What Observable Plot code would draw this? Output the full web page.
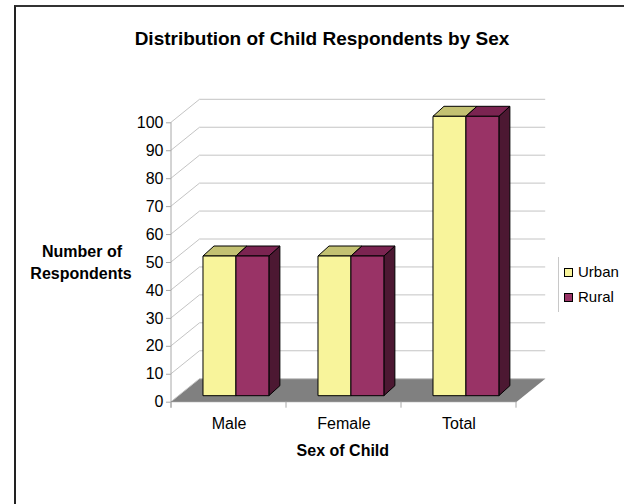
<!DOCTYPE html>
<html><head><meta charset="utf-8">
<script src="https://cdn.jsdelivr.net/npm/d3@7"></script>
<script src="https://cdn.jsdelivr.net/npm/@observablehq/plot@0.6"></script>
<style>
html,body{margin:0;padding:0;background:#fff;overflow:hidden}
#wrap{position:relative;width:624px;height:504px;overflow:hidden}
#border{position:absolute;left:14px;top:5px;width:700px;height:600px;border-left:2px solid #222;border-top:2px solid #333;box-sizing:border-box}
#wrap svg{position:absolute;left:0;top:0}
</style></head><body><div id="wrap"><div id="border"></div></div>
<script>
// ---- data ----
const categories = ["Male", "Female", "Total"];
const seriesNames = ["Urban", "Rural"];
const urbanValues = [50, 50, 100];
const ruralValues = [50, 50, 100];
const yTicks = [0, 10, 20, 30, 40, 50, 60, 70, 80, 90, 100];
const chartTitle = "Distribution of Child Respondents by Sex";
const yTitleLines = ["Number of", "Respondents"];
const xTitle = "Sex of Child";

// ---- styles ----
const frontColors = ["#f8f49b", "#993366"];
const topColors = ["#c3c172", "#7b2451"];
const sideColor = "#4c1832";
const floorColor = "#808080";
const gridColor = "#c4c4c4";
const FONT = "'Liberation Sans', Arial, Helvetica, sans-serif";

// 3D projection offsets (pixels)
const WALL = [28.5, -23];
const BAR_OFF = [7.5, -6];
const BAR_DEPTH = [11, -10];
const GROUP_START = 0.213;
const BAR_W = 0.2865;

const rows = [];
categories.forEach((c, i) => {
  rows.push({category: c, series: seriesNames[0], s: 0, value: urbanValues[i]});
  rows.push({category: c, series: seriesNames[1], s: 1, value: ruralValues[i]});
});

const pts = (a) => a.map(p => p.join(",")).join(" ");
const bwOf = (x) => typeof x.bandwidth === "function" ? x.bandwidth() : x.bandwidth;

function wallsMark(index, scales, values, dims) {
  const x = scales.x, y = scales.y;
  const x0 = dims.marginLeft, x1 = dims.width - dims.marginRight, y0 = y(0);
  const g = d3.create("svg:g");
  g.append("polygon")
    .attr("points", pts([[x0, y0], [x1, y0], [x1 + WALL[0], y0 + WALL[1]], [x0 + WALL[0], y0 + WALL[1]]]))
    .attr("fill", floorColor);
  for (const t of yTicks) {
    const yt = y(t);
    g.append("line").attr("x1", x0 + WALL[0]).attr("x2", x1 + WALL[0])
      .attr("y1", yt + WALL[1]).attr("y2", yt + WALL[1]).attr("stroke", gridColor);
    g.append("line").attr("x1", x0).attr("x2", x0 + WALL[0])
      .attr("y1", yt).attr("y2", yt + WALL[1]).attr("stroke", gridColor);
  }
  g.append("line").attr("x1", x0).attr("x2", x0)
    .attr("y1", y(d3.max(yTicks))).attr("y2", y0 + 6).attr("stroke", "#a8a8a8");
  g.append("line").attr("x1", x0).attr("x2", x1)
    .attr("y1", y0).attr("y2", y0).attr("stroke", "#8a8a8a");
  const bw = bwOf(x);
  const edges = categories.map(c => x(c)).concat([x(categories[categories.length - 1]) + bw]);
  for (const e of edges) {
    g.append("line").attr("x1", e).attr("x2", e).attr("y1", y0).attr("y2", y0 + 6).attr("stroke", "#a8a8a8");
  }
  return g.node();
}

function barsMark(index, scales, values, dims) {
  const x = scales.x, y = scales.y;
  const bw = bwOf(x);
  const g = d3.create("svg:g").attr("stroke", "#000").attr("stroke-width", 1).attr("stroke-linejoin", "round");
  for (const r of rows) {
    const left = x(r.category) + bw * (GROUP_START + r.s * BAR_W) + BAR_OFF[0];
    const right = left + bw * BAR_W;
    const top = y(r.value) + BAR_OFF[1];
    const bottom = y(0) + BAR_OFF[1];
    g.append("polygon").attr("fill", sideColor)
      .attr("points", pts([[right, top], [right + BAR_DEPTH[0], top + BAR_DEPTH[1]], [right + BAR_DEPTH[0], bottom + BAR_DEPTH[1]], [right, bottom]]));
    g.append("polygon").attr("fill", topColors[r.s])
      .attr("points", pts([[left, top], [right, top], [right + BAR_DEPTH[0], top + BAR_DEPTH[1]], [left + BAR_DEPTH[0], top + BAR_DEPTH[1]]]));
    g.append("rect").attr("fill", frontColors[r.s])
      .attr("x", left).attr("y", top).attr("width", right - left).attr("height", bottom - top);
  }
  return g.node();
}

function textMark(index, scales, values, dims) {
  const g = d3.create("svg:g").attr("font-family", FONT).attr("fill", "#000");
  const cx = (dims.marginLeft + dims.width - dims.marginRight) / 2;
  g.append("text").attr("x", 322).attr("y", 45).attr("text-anchor", "middle")
    .attr("font-size", 19).attr("font-weight", "bold").text(chartTitle);
  g.append("text").attr("x", 82).attr("y", 257).attr("text-anchor", "middle")
    .attr("font-size", 16).attr("font-weight", "bold").text(yTitleLines[0]);
  g.append("text").attr("x", 81).attr("y", 279).attr("text-anchor", "middle")
    .attr("font-size", 16).attr("font-weight", "bold").text(yTitleLines[1]);
  g.append("text").attr("x", cx - 1).attr("y", 456).attr("text-anchor", "middle")
    .attr("font-size", 16).attr("font-weight", "bold").text(xTitle);
  // legend
  g.append("line").attr("x1", 558.5).attr("x2", 558.5).attr("y1", 257).attr("y2", 312).attr("stroke", "#c8c8c8");
  seriesNames.forEach((name, i) => {
    const base = 277 + i * 25;
    g.append("rect").attr("x", 564.5).attr("y", base - 8.5).attr("width", 8).attr("height", 8)
      .attr("fill", frontColors[i]).attr("stroke", "#000");
    g.append("text").attr("x", 578).attr("y", base).attr("text-anchor", "start")
      .attr("font-size", 15).text(name);
  });
  return g.node();
}

const plot = Plot.plot({
  width: 624,
  height: 504,
  marginLeft: 171,
  marginRight: 107.3,
  marginTop: 122.3,
  marginBottom: 102.3,
  style: {fontFamily: FONT, fontSize: "16px", color: "#000", background: "transparent", overflow: "visible"},
  x: {type: "band", domain: categories, padding: 0, label: null},
  y: {type: "linear", domain: [0, 100], label: null},
  marks: [
    wallsMark,
    Plot.axisY(yTicks, {tickSize: 5, tickPadding: 3, stroke: "#a8a8a8", fontSize: 16, label: null}),
    Plot.axisX({tickSize: 0, tickPadding: 15, fontSize: 16, label: null}),
    barsMark,
    textMark
  ]
});
document.getElementById("wrap").appendChild(plot);
</script>
</body></html>
